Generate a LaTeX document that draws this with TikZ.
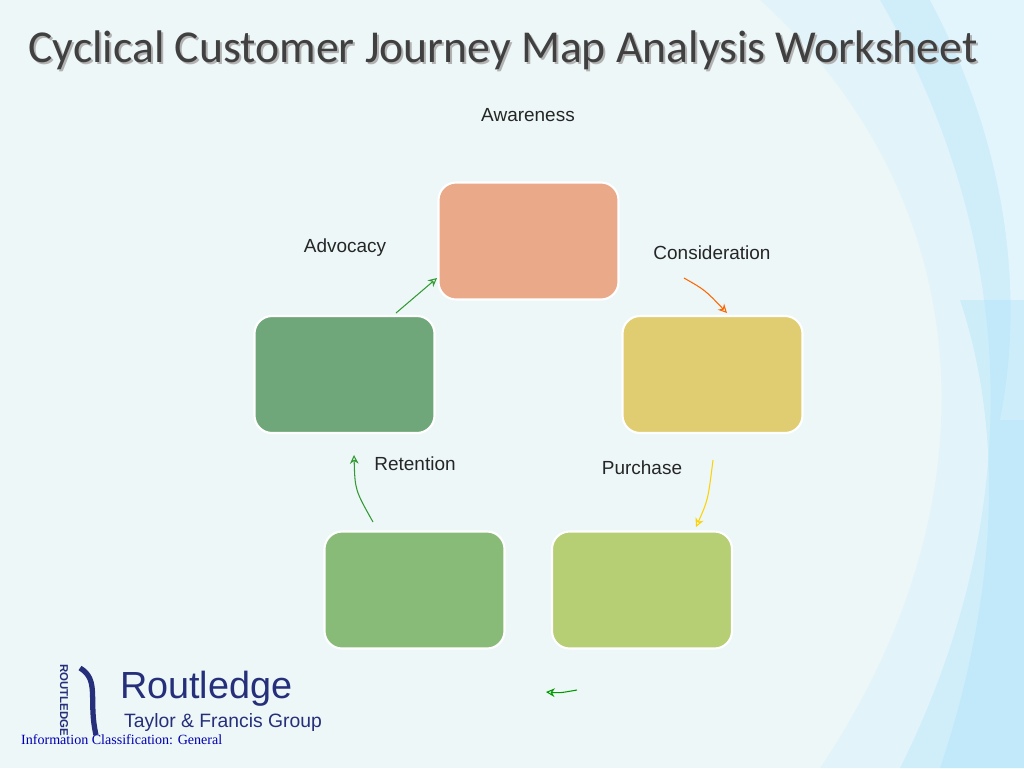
\documentclass[tikz,border=0pt]{standalone}
\usepackage{fontspec}
\setmainfont{Liberation Sans}
\newfontfamily\titlefont{Carlito}
\newfontfamily\serifft{Liberation Serif}
\usetikzlibrary{arrows.meta}
\definecolor{bg}{HTML}{EDF7F8}
\definecolor{aw}{HTML}{EAA988}
\definecolor{co}{HTML}{E0CD72}
\definecolor{pu}{HTML}{B6CE74}
\definecolor{re}{HTML}{88BB78}
\definecolor{ad}{HTML}{6FA77A}
\definecolor{rblue}{HTML}{26307A}
\newlength\pxu \setlength\pxu{0.02cm}
\tikzset{
 stage/.style={draw=white,line width=1.2pt,rounded corners=10pt,minimum width=180\pxu,minimum height=117\pxu},
 lbl/.style={font=\fontsize{10.8}{12}\selectfont,text=black!85},
 arr/.style={-{Stealth[length=5pt,width=5pt,open]},line width=0.6pt}
}
\begin{document}
\begin{tikzpicture}[x=0.02cm,y=-0.02cm]
\fill[bg] (0,0) rectangle (1024,768);
\useasboundingbox (0,0) rectangle (1024,768);
% swooshes
\fill[cyan!15,opacity=0.5] (760,0) .. controls (980,200) and (1000,500) .. (820,768) -- (1024,768) -- (1024,0) -- cycle;
\fill[cyan!25,opacity=0.5] (880,0) .. controls (1024,250) and (1024,520) .. (900,768) -- (1024,768) -- (1024,0) -- cycle;
\fill[white,opacity=0.4] (930,0) .. controls (1010,150) and (1024,300) .. (1000,420) -- (1024,420) -- (1024,0) -- cycle;
\fill[cyan!35,opacity=0.35] (960,300) .. controls (1010,450) and (990,620) .. (940,768) -- (1024,768) -- (1024,300) -- cycle;
% title
\node[font=\titlefont\fontsize{26}{30}\selectfont,text=black!30] at (505,52) {Cyclical Customer Journey Map Analysis Worksheet};
\node[font=\titlefont\fontsize{26}{30}\selectfont,text=black!75] (title) at (503,50) {Cyclical Customer Journey Map Analysis Worksheet};
% boxes
\node[stage,fill=aw] (aw) at (528.5,241) {};
\node[stage,fill=co] (co) at (712.5,374.5) {};
\node[stage,fill=pu] (pu) at (642,590) {};
\node[stage,fill=re] (re) at (414.5,590) {};
\node[stage,fill=ad] (ad) at (344.5,374.5) {};
% labels
\node[lbl] (law) at (528,115) {Awareness};
\node[lbl] (lco) at (712,253) {Consideration};
\node[lbl] (lad) at (345,248) {Advocacy};
\node[lbl] (lre) at (415,464) {Retention};
\node[lbl] (lpu) at (642,468) {Purchase};
% arrows
\coordinate (a1) at (396,313); \coordinate (a2) at (437,278);
\draw[arr,color=green!50!black!80] (a1) -- (a2);
\coordinate (b1) at (684,278); \coordinate (b2) at (727,313);
\draw[arr,color=orange!80!red] (b1) .. controls (705,290) .. (b2);
\coordinate (c1) at (713,460); \coordinate (c2) at (696,527);
\draw[arr,color=yellow!70!orange] (c1) .. controls (708,500) .. (c2);
\coordinate (d1) at (577,690); \coordinate (d2) at (546,692);
\draw[arr,color=green!60!black] (d1) .. controls (560,693) .. (d2);
\coordinate (e1) at (373,522); \coordinate (e2) at (354,455);
\draw[arr,color=green!50!black!80] (e1) .. controls (355,490) .. (e2);
% logo
\node[rotate=-90,font=\bfseries\fontsize{6.5}{7}\selectfont,text=rblue] (rv) at (64,700) {ROUTLEDGE};
\draw[rblue,line width=3pt] (80,668) .. controls (100,680) and (88,700) .. (96,735);
\node[anchor=west,font=\fontsize{21.5}{24}\selectfont,text=rblue] (rt) at (114,689) {Routledge};
\node[anchor=west,font=\fontsize{11}{13}\selectfont,text=rblue] (tf) at (118,722) {Taylor \& Francis Group};
\node[anchor=west,font=\serifft\fontsize{8}{9}\selectfont,text=blue!70!black] (ic) at (15,740) {Information Classification: General};
\end{tikzpicture}
\end{document}
